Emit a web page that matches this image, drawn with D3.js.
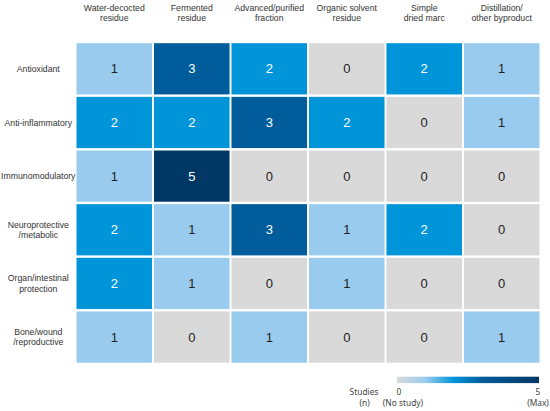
<!DOCTYPE html>
<html>
<head>
<meta charset="utf-8">
<script src="https://cdn.jsdelivr.net/npm/d3@7"></script>
<style>
  html, body { margin: 0; padding: 0; background: #fff; }
  svg { display: block; }
</style>
</head>
<body>
<div id="app"></div>
<script>
const width = 550;
const height = 411;

// residue types (columns)
const residueTypes = [
  ["Water-decocted", "residue"],
  ["Fermented", "residue"],
  ["Advanced/purified", "fraction"],
  ["Organic solvent", "residue"],
  ["Simple", "dried marc"],
  ["Distillation/", "other byproduct"]
];

// bioactivities (rows)
const activities = [
  ["Antioxidant"],
  ["Anti-inflammatory"],
  ["Immunomodulatory"],
  ["Neuroprotective", "/metabolic"],
  ["Organ/intestinal", "protection"],
  ["Bone/wound", "/reproductive"]
];

// number of studies, one row per activity
const antioxidant = [1, 3, 2, 0, 2, 1];
const antiInflammatory = [2, 2, 3, 2, 0, 1];
const immunomodulatory = [1, 5, 0, 0, 0, 0];
const neuroprotective = [2, 1, 3, 1, 2, 0];
const organProtection = [2, 1, 0, 1, 0, 0];
const boneWound = [1, 0, 1, 0, 0, 1];
const studies = [antioxidant, antiInflammatory, immunomodulatory, neuroprotective, organProtection, boneWound];

const legendTicks = [
  { v: 0, label: "0", sub: "(No study)" },
  { v: 5, label: "5", sub: "(Max)" }
];

const svg = d3.select("#app").append("svg")
  .attr("width", width)
  .attr("height", height);

const x = d3.scaleBand()
  .domain(d3.range(residueTypes.length))
  .range([76.5, 539.5])
  .paddingInner(0.025);

const y = d3.scaleBand()
  .domain(d3.range(activities.length))
  .range([43.2, 362.7])
  .paddingInner(0.045);

const color = d3.scaleLinear()
  .domain([0, 1, 2, 3, 5])
  .range(["#d9d9d9", "#99cbee", "#0094d9", "#005c9b", "#003865"]);

const cells = studies.flatMap((row, r) => row.map((v, c) => ({ r, c, v })));

const cell = svg.append("g")
  .selectAll("g")
  .data(cells)
  .join("g");

cell.append("rect")
  .attr("x", d => x(d.c))
  .attr("y", d => y(d.r))
  .attr("width", x.bandwidth())
  .attr("height", y.bandwidth())
  .attr("fill", d => color(d.v));

cell.append("text")
  .attr("x", d => x(d.c) + x.bandwidth() / 2)
  .attr("y", d => y(d.r) + y.bandwidth() / 2)
  .attr("dy", "0.36em")
  .attr("text-anchor", "middle")
  .attr("font-family", "'Liberation Sans', Arial, sans-serif")
  .attr("font-size", 13)
  .attr("fill", d => d.v >= 2 ? "#ffffff" : "#222222")
  .text(d => d.v);

const labelFont = "'Liberation Sans', Arial, sans-serif";
const lineH = 10.3;

// column headers, one text per line
const headerLines = residueTypes.flatMap((lines, c) => lines.map((t, i) => ({ c, i, t })));
svg.append("g")
  .selectAll("text")
  .data(headerLines)
  .join("text")
  .attr("x", d => x(d.c) + x.bandwidth() / 2)
  .attr("y", d => 10.5 + d.i * lineH)
  .attr("text-anchor", "middle")
  .attr("font-family", labelFont)
  .attr("font-size", 8.7)
  .attr("fill", "#333")
  .text(d => d.t);

// row labels, one text per line, centred on the row
const rowLines = activities.flatMap((lines, r) => lines.map((t, i) => ({ r, i, n: lines.length, t })));
svg.append("g")
  .selectAll("text")
  .data(rowLines)
  .join("text")
  .attr("x", 38.3)
  .attr("y", d => y(d.r) + y.bandwidth() / 2 - (d.n - 1) * lineH / 2 + d.i * lineH)
  .attr("dy", "0.35em")
  .attr("text-anchor", "middle")
  .attr("font-family", labelFont)
  .attr("font-size", 8.7)
  .attr("fill", "#333")
  .text(d => d.t);

// legend
const lx = d3.scaleLinear().domain([0, 5]).range([397, 539]);
const grad = svg.append("defs").append("linearGradient")
  .attr("id", "legend-grad")
  .attr("x1", "0%").attr("x2", "100%");
grad.selectAll("stop")
  .data(color.domain())
  .join("stop")
  .attr("offset", d => (d / 5 * 100) + "%")
  .attr("stop-color", d => color(d));

svg.append("rect")
  .attr("x", lx(0))
  .attr("y", 376.7)
  .attr("width", lx(5) - lx(0))
  .attr("height", 6.4)
  .attr("fill", "url(#legend-grad)");

const legendFont = "'Noto Sans', 'Open Sans', sans-serif";
const lt = svg.append("g")
  .attr("font-family", legendFont)
  .attr("font-size", 8.4)
  .attr("fill", "#444");

lt.append("text").attr("x", 364).attr("y", 395).attr("text-anchor", "middle").text("Studies");
lt.append("text").attr("x", 364.6).attr("y", 405.5).attr("text-anchor", "middle").text("(n)");

lt.selectAll("text.tick")
  .data(legendTicks)
  .join("text")
  .attr("class", "tick")
  .attr("x", d => lx(d.v) + (d.v === 0 ? 2 : -1))
  .attr("y", 395)
  .attr("text-anchor", "middle")
  .text(d => d.label);

lt.selectAll("text.sub")
  .data(legendTicks)
  .join("text")
  .attr("class", "sub")
  .attr("x", d => d.v === 0 ? 403 : 538)
  .attr("y", 405.5)
  .attr("text-anchor", "middle")
  .text(d => d.sub);
</script>
</body>
</html>
